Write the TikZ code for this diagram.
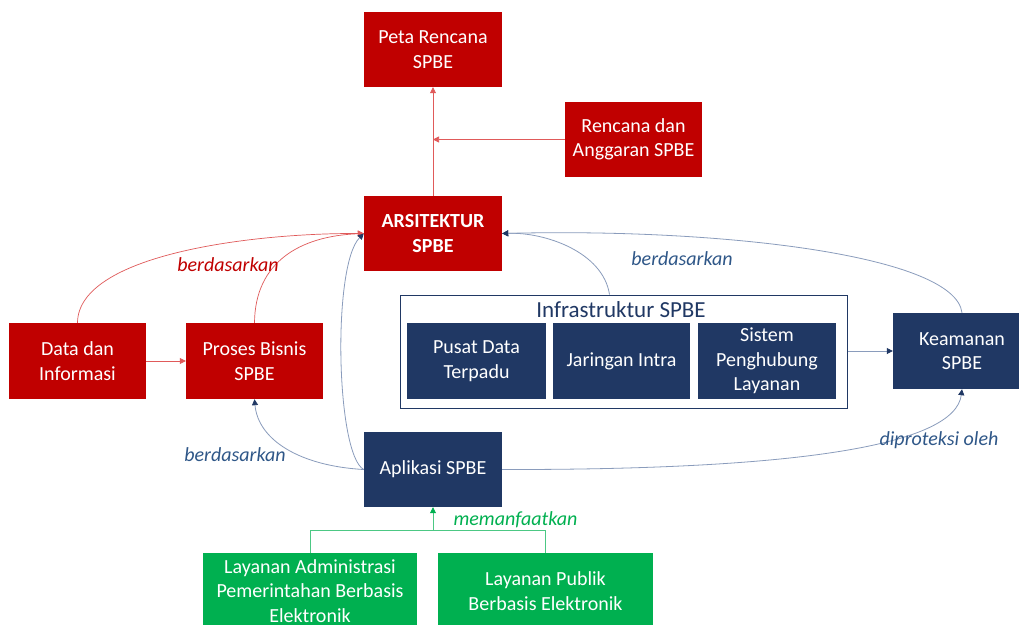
\documentclass[tikz,border=0pt]{standalone}
\usepackage{fontspec}
\setmainfont{Carlito}
\usetikzlibrary{arrows.meta,calc}
\definecolor{spbered}{HTML}{C00000}
\definecolor{spbenavy}{HTML}{203864}
\definecolor{spbegreen}{HTML}{00B050}
\definecolor{redline}{HTML}{E05A5A}
\definecolor{blueline}{HTML}{8A9CBC}
\definecolor{bluelabel}{HTML}{2F5788}
\tikzset{
  box/.style={minimum width=138pt, minimum height=75pt, inner sep=2pt, align=center,
    text=white, font=\fontsize{20}{24.5}\selectfont},
  redbox/.style={box, fill=spbered},
  navybox/.style={box, fill=spbenavy},
  greenbox/.style={box, fill=spbegreen, minimum width=214pt, minimum height=76pt},
  tip/.style={-{Triangle[length=6pt,width=6pt]}},
  redarrow/.style={tip, draw=redline, line width=0.7pt},
  bluearrow/.style={-{Triangle[length=6pt,width=6pt,fill=spbenavy,color=spbenavy]}, draw=blueline, line width=0.8pt},
  greenline/.style={draw=spbegreen!70, line width=0.8pt},
  lbl/.style={font=\fontsize{20}{22}\selectfont\itshape},
}
\begin{document}
\begin{tikzpicture}[x=1pt,y=-1pt]
\useasboundingbox[fill=white] (0,0) rectangle (1019,624);

% red planning boxes
\node[redbox] (peta) at (433,49.5) {Peta Rencana\\SPBE};
\node[redbox, minimum width=137pt] (renc) at (633.5,139.5) {Rencana dan\\Anggaran SPBE};
\node[redbox, font=\fontsize{20}{24.5}\selectfont\bfseries] (arsi) at (433,233.5) {ARSITEKTUR\\SPBE};
\node[redbox, minimum width=137pt, minimum height=76pt] (data) at (77.5,361) {Data dan\\Informasi};
\node[redbox, minimum width=137pt, minimum height=76pt] (proses) at (254.5,361) {Proses Bisnis\\SPBE};

% navy boxes
\node[navybox] (apl) at (433,469.5) {Aplikasi SPBE};
\node[draw=spbenavy, line width=1pt, minimum width=447pt, minimum height=113pt] (infra) at (623.5,351.5) {};
\node[text=spbenavy, font=\fontsize{23}{26}\selectfont] (infratitle) at (621,310) {Infrastruktur SPBE};
\node[navybox, minimum width=139pt, minimum height=76pt] (pusat) at (476.5,361) {Pusat Data\\Terpadu};
\node[navybox, minimum width=137pt, minimum height=76pt] (jar) at (621.5,361) {Jaringan Intra};
\node[navybox, minimum width=138pt, minimum height=76pt] (sistem) at (767,361) {Sistem\\Penghubung\\Layanan};
\node[navybox, minimum height=76pt] (keam) at (962,351) {Keamanan\\SPBE};

% green service boxes
\node[greenbox] (adm) at (310,591) {Layanan Administrasi\\Pemerintahan Berbasis\\Elektronik};
\node[greenbox, minimum width=215pt] (publik) at (545.5,591) {Layanan Publik\\Berbasis Elektronik};

% red connectors
\draw[redarrow] (arsi.north) -- (peta.south);
\coordinate (join) at (peta.south |- renc.west);
\draw[redarrow] (renc.west) -- (join);
\draw[redarrow] (data.east) -- (proses.west);
\draw[redarrow] (data.north) .. controls (78,255) and (250,233) .. (arsi.west);
\draw[redarrow] (proses.north) .. controls (255,262) and (300,236) .. (arsi.west);

% blue connectors
\draw[bluearrow] (apl.west) .. controls (300,466) and (258,440) .. (proses.south);
\draw[bluearrow] (apl.west) .. controls (336,455) and (332,265) .. (arsi.west);
\draw[bluearrow] ([xshift=-14pt]infra.north) .. controls (603,252) and (545,232) .. (arsi.east);
\draw[bluearrow] (keam.north) .. controls (955,255) and (720,228) .. (arsi.east);
\draw[bluearrow] (infra.east |- keam.west) -- (keam.west);
\draw[bluearrow] (apl.east) .. controls (800,470) and (955,445) .. (keam.south);

% green connectors
\coordinate (gl) at (adm.north |- 0,530);
\coordinate (gr) at (publik.north |- 0,530);
\coordinate (gm) at (apl.south |- 0,530);
\draw[greenline] (adm.north) -- (gl) -- (gr) -- (publik.north);
\draw[greenline, -{Triangle[length=6pt,width=6pt,fill=spbegreen,color=spbegreen]}] (gm) -- (apl.south);

% connector labels
\node[lbl, text=spbered] (l1) at (228,265) {berdasarkan};
\node[lbl, text=bluelabel] (l2) at (235,455) {berdasarkan};
\node[lbl, text=bluelabel] (l3) at (682,259) {berdasarkan};
\node[lbl, text=bluelabel] (l4) at (939,440) {diproteksi oleh};
\node[lbl, text=spbegreen] (l5) at (515.5,520) {memanfaatkan};
\end{tikzpicture}
\end{document}
